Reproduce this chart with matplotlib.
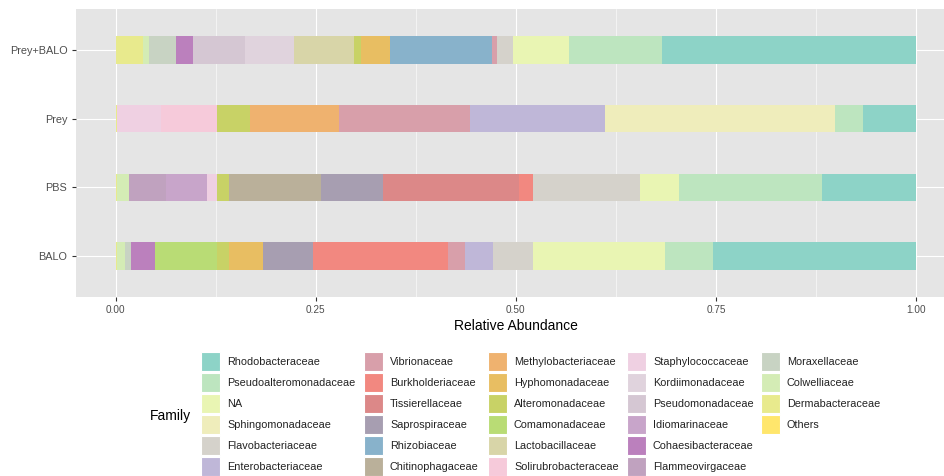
import numpy as np
import matplotlib.pyplot as plt
from matplotlib.patches import Rectangle

plt.rcParams['font.family'] = ['Liberation Sans', 'DejaVu Sans']

samples = ['BALO', 'PBS', 'Prey', 'Prey+BALO']

families = ['Rhodobacteraceae', 'Pseudoalteromonadaceae', 'NA', 'Sphingomonadaceae',
            'Flavobacteriaceae', 'Enterobacteriaceae', 'Vibrionaceae', 'Burkholderiaceae',
            'Tissierellaceae', 'Saprospiraceae', 'Rhizobiaceae', 'Chitinophagaceae',
            'Methylobacteriaceae', 'Hyphomonadaceae', 'Alteromonadaceae', 'Comamonadaceae',
            'Lactobacillaceae', 'Solirubrobacteraceae', 'Staphylococcaceae', 'Kordiimonadaceae',
            'Pseudomonadaceae', 'Idiomarinaceae', 'Cohaesibacteraceae', 'Flammeovirgaceae',
            'Moraxellaceae', 'Colwelliaceae', 'Dermabacteraceae', 'Others']

colors = ['#8DD3C7', '#BDE5BF', '#E9F5B3', '#EFEDBB', '#D5D2CB', '#BFB7D8', '#D89FAA', '#F28880',
          '#DC8888', '#A79EB1', '#88B2CB', '#BAB09A', '#EFB26F', '#E8BE62', '#C8D266', '#B9DC75',
          '#D8D5A8', '#F6CADA', '#EFD0E2', '#E0D3DD', '#D5C7D3', '#C8A5CA', '#BB80BD', '#C0A2BF',
          '#C8D3C3', '#D4ECB5', '#E8EA8D', '#FFE66C']

# relative abundance per sample, same order as families
balo = [0.254, 0.060, 0.165, 0, 0.049, 0.035, 0.022, 0.169,
        0, 0.062, 0, 0, 0, 0.043, 0.015, 0.077,
        0, 0, 0, 0, 0, 0, 0.030, 0,
        0.0075, 0.010, 0.0015, 0]
pbs = [0.118, 0.178, 0.049, 0, 0.133, 0, 0, 0.018,
       0.170, 0.078, 0, 0.114, 0.001, 0, 0.014, 0,
       0, 0, 0.013, 0, 0, 0.051, 0, 0.047,
       0, 0.015, 0.001, 0]
prey = [0.066, 0.035, 0, 0.288, 0, 0.168, 0.164, 0,
        0, 0, 0, 0, 0.111, 0, 0.042, 0,
        0, 0.069, 0.055, 0, 0, 0, 0, 0,
        0, 0, 0.002, 0]
prey_balo = [0.317, 0.116, 0.070, 0, 0.021, 0, 0.006, 0,
             0, 0, 0.127, 0, 0, 0.037, 0.008, 0,
             0.075, 0, 0, 0.062, 0.065, 0, 0.021, 0,
             0.033, 0.0083, 0.0337, 0]

values = np.array([balo, pbs, prey, prey_balo])

W, H = 945, 476
fig = plt.figure(figsize=(W / 100, H / 100), dpi=100)
ax = fig.add_axes([75.7 / W, 1 - 297 / H, (956 - 75.7) / W, (297 - 9) / H])
ax.set_facecolor('#E5E5E5')

y = np.arange(len(samples))
left = np.zeros(len(samples))
# ggplot stacks the first level at the far end, so draw from the last family
for i in range(len(families) - 1, -1, -1):
    ax.barh(y, values[:, i], left=left, height=0.4, color=colors[i], linewidth=0, zorder=3)
    left += values[:, i]

ax.set_xlim(-0.05, 1.05)
ax.set_ylim(-0.6, 3.6)
ax.set_xticks([0, 0.25, 0.5, 0.75, 1.0])
ax.set_xticklabels(['0.00', '0.25', '0.50', '0.75', '1.00'])
ax.set_xticks([0.125, 0.375, 0.625, 0.875], minor=True)
ax.set_yticks(y)
ax.set_yticklabels(samples)
ax.grid(which='major', color='white', linewidth=0.8, zorder=0)
ax.grid(which='minor', axis='x', color='white', linewidth=0.4, zorder=0)
ax.set_axisbelow(True)
for s in ax.spines.values():
    s.set_visible(False)
ax.tick_params(which='major', length=3, width=0.8, color='#333333', labelcolor='#4D4D4D', labelsize=7.8, pad=3)
ax.tick_params(axis='x', labelsize=7.2)
ax.tick_params(which='minor', length=0)
ax.set_xlabel('Relative Abundance', fontsize=10, labelpad=3)

# legend, laid out like ggplot's 5 columns x 6 rows
fig.text(150 / W, 1 - 416 / H, 'Family', fontsize=10, va='center', ha='left')
key_x = [201, 364, 488, 627, 761]
row_y = [352, 373, 394, 415, 436, 457]
for k, name in enumerate(families):
    c, r = k // 6, k % 6
    x0, y0 = key_x[c], row_y[r]
    fig.add_artist(Rectangle((x0 / W, 1 - (y0 + 19) / H), 19 / W, 19 / H,
                             transform=fig.transFigure, facecolor=colors[k], edgecolor='white', linewidth=0.8))
    fig.text((x0 + 26) / W, 1 - (y0 + 10) / H, name, fontsize=7.8, va='center', ha='left', color='#222222')

fig.savefig('out.png', dpi=100)
